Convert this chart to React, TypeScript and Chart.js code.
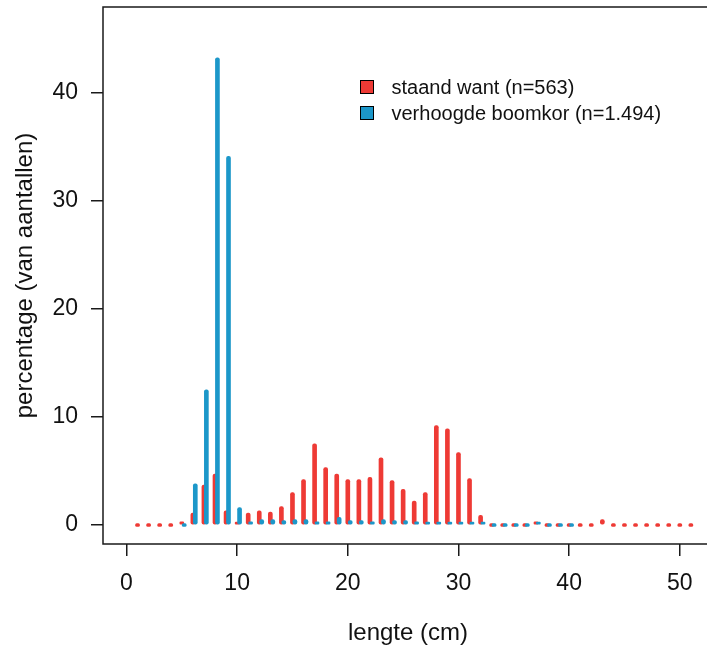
import React, { useEffect, useRef } from "react";
import { Chart, registerables } from "chart.js";

Chart.register(...registerables);

// ---- data ----
const LENGTHS_STAAND = [
  1, 2, 3, 4, 5, 6, 7, 8, 9, 10, 11, 12, 13, 14, 15, 16, 17, 18, 19, 20, 21, 22, 23, 24, 25,
  26, 27, 28, 29, 30, 31, 32, 33, 34, 35, 36, 37, 38, 39, 40, 41, 42, 43, 44, 45, 46, 47, 48,
  49, 50, 51,
];
const STAAND_WANT = [
  0, 0, 0, 0, 0.3, 1.1, 3.7, 4.7, 1.3, 0.2, 1.1, 1.3, 1.2, 1.7, 3.0, 4.2, 7.5, 5.3, 4.7, 4.2,
  4.2, 4.4, 6.2, 4.1, 3.3, 2.2, 3.0, 9.2, 8.9, 6.7, 4.3, 0.9, 0, 0, 0, 0, 0.3, 0, 0, 0, 0, 0,
  0.5, 0, 0, 0, 0, 0, 0, 0, 0,
];
const LENGTHS_BOOMKOR = [
  5, 6, 7, 8, 9, 10, 11, 12, 13, 14, 15, 16, 17, 18, 19, 20, 21, 22, 23, 24, 25, 26, 27, 28,
  29, 30, 31, 32, 33, 34, 35, 36, 37, 38, 39, 40,
];
const VERHOOGDE_BOOMKOR = [
  0, 3.8, 12.5, 43.2, 34.1, 1.6, 0.3, 0.5, 0.5, 0.4, 0.5, 0.5, 0.3, 0.3, 0.7, 0.4, 0.4, 0.3,
  0.5, 0.4, 0.4, 0.3, 0.2, 0.2, 0.2, 0.2, 0.2, 0.1, 0, 0, 0, 0, 0.1, 0, 0, 0,
];
const SERIES_LABELS = ["staand want (n=563)", "verhoogde boomkor (n=1.494)"];
const X_TICKS = [0, 10, 20, 30, 40, 50];
const Y_TICKS = [0, 10, 20, 30, 40];
const X_TITLE = "lengte (cm)";
const Y_TITLE = "percentage (van aantallen)";

// ---- style / layout ----
const RED = "#EE3A35";
const BLUE = "#1C97C9";
const FONT = "'Liberation Sans', Arial, sans-serif";
const INK = "#111111";
const BOOMKOR_SHIFT = 0.22; // blue lines drawn slightly to the right of the length
const CANVAS_W = 713;
const CANVAS_H = 648;

const frameAndLegend = {
  id: "frameAndLegend",
  afterDraw(chart: any) {
    const { ctx, chartArea } = chart;
    ctx.save();
    ctx.strokeStyle = "#1a1a1a";
    ctx.lineWidth = 1.5;
    ctx.beginPath();
    ctx.moveTo(chartArea.right + 5, chartArea.top);
    ctx.lineTo(chartArea.left, chartArea.top);
    ctx.lineTo(chartArea.left, chartArea.bottom);
    ctx.lineTo(chartArea.right + 5, chartArea.bottom);
    ctx.stroke();

    // legend
    const lx = 360.5;
    const ly = 87;
    const row = 26;
    const box = 13;
    ctx.font = `20px ${FONT}`;
    ctx.textBaseline = "middle";
    ctx.textAlign = "left";
    chart.data.datasets.forEach((ds: any, i: number) => {
      const cy = ly + i * row;
      ctx.fillStyle = ds.backgroundColor;
      ctx.fillRect(lx, cy - box / 2, box, box);
      ctx.strokeStyle = "#000";
      ctx.lineWidth = 1;
      ctx.strokeRect(lx, cy - box / 2, box, box);
      ctx.fillStyle = INK;
      ctx.fillText(ds.label, lx + 31, cy + 1);
    });
    ctx.restore();
  },
};

export default function App() {
  const ref = useRef<HTMLCanvasElement | null>(null);

  useEffect(() => {
    if (!ref.current) return;
    const redData = LENGTHS_STAAND.map((x, i) => ({ x, y: STAAND_WANT[i] }));
    const blueData = LENGTHS_BOOMKOR.map((x, i) => ({ x: x + BOOMKOR_SHIFT, y: VERHOOGDE_BOOMKOR[i] }));

    const chart = new Chart(ref.current, {
      type: "bar",
      data: {
        datasets: [
          {
            label: SERIES_LABELS[0],
            data: redData as any,
            backgroundColor: RED,
            order: 1,
          },
          {
            label: SERIES_LABELS[1],
            data: blueData as any,
            backgroundColor: BLUE,
            order: 0,
          },
        ],
      },
      options: {
        animation: false,
        responsive: false,
        devicePixelRatio: 1,
        layout: { padding: { left: 0, right: 0, top: 7, bottom: 0 } },
        datasets: {
          bar: {
            grouped: false,
            barThickness: 4,
            minBarLength: 3,
            borderRadius: 2,
            borderSkipped: false,
            borderWidth: 0,
          } as any,
        },
        plugins: {
          legend: { display: false },
          tooltip: { enabled: false },
        },
        scales: {
          x: {
            type: "linear",
            offset: false,
            min: -2.12,
            max: 53,
            afterBuildTicks: (s: any) => {
              s.ticks = X_TICKS.map((v) => ({ value: v }));
            },
            afterFit: (s: any) => {
              s.height = 104;
              s.paddingLeft = 0;
              s.paddingRight = 0;
            },
            border: { display: false },
            grid: {
              display: true,
              offset: false,
              drawOnChartArea: false,
              drawTicks: true,
              tickLength: 12,
              color: "#1a1a1a",
              lineWidth: 1.5,
            },
            ticks: {
              color: INK,
              font: { family: FONT, size: 23 },
              padding: 14,
              maxRotation: 0,
              autoSkip: false,
            },
            title: {
              display: true,
              text: X_TITLE,
              color: INK,
              font: { family: FONT, size: 24 },
              padding: { top: 0, bottom: 0 },
            },
          },
          y: {
            type: "linear",
            min: -1.76,
            max: 47.9,
            afterBuildTicks: (s: any) => {
              s.ticks = Y_TICKS.map((v) => ({ value: v }));
            },
            afterFit: (s: any) => {
              s.width = 103;
              s.paddingTop = 0;
              s.paddingBottom = 0;
            },
            border: { display: false },
            grid: {
              display: true,
              drawOnChartArea: false,
              drawTicks: true,
              tickLength: 12,
              color: "#1a1a1a",
              lineWidth: 1.5,
            },
            ticks: {
              color: INK,
              font: { family: FONT, size: 23 },
              padding: 13,
              autoSkip: false,
            },
            title: {
              display: true,
              text: Y_TITLE,
              color: INK,
              font: { family: FONT, size: 24 },
              padding: { top: 11, bottom: 0 },
            },
          },
        },
      },
      plugins: [frameAndLegend],
    });
    return () => chart.destroy();
  }, []);

  return (
    <div
      style={{
        position: "absolute",
        left: 0,
        top: 0,
        width: 707,
        height: 648,
        overflow: "hidden",
        background: "#fff",
      }}
    >
      <canvas
        ref={ref}
        width={CANVAS_W}
        height={CANVAS_H}
        style={{ width: CANVAS_W, height: CANVAS_H, display: "block" }}
      />
    </div>
  );
}
